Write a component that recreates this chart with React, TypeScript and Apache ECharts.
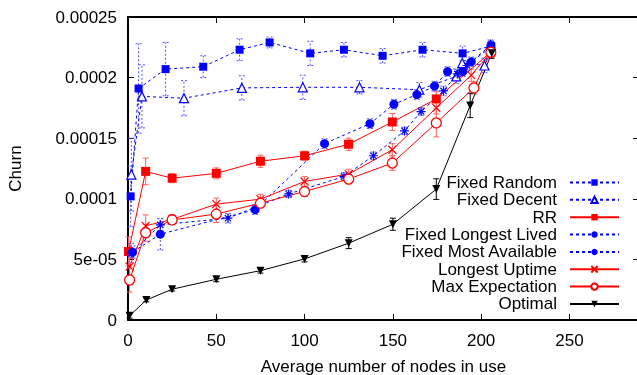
import React, { useEffect, useRef } from 'react';
import * as echarts from 'echarts';

const Y_TICK_LABELS = ['0', '5e-05', '0.0001', '0.00015', '0.0002', '0.00025'];

const FR_X = [1.5, 6, 21.3, 42.6, 63.2, 80.2, 103.2, 122.3, 144.2, 166.8, 189.5, 205.7];
const FR_Y = [1.02e-4, 1.91e-4, 2.07e-4, 2.09e-4, 2.23e-4, 2.29e-4, 2.2e-4, 2.23e-4, 2.18e-4, 2.23e-4, 2.2e-4, 2.26e-4];
const FR_E = [2.5e-5, 3.7e-5, 2.2e-5, 0.9e-5, 0.9e-5, 0.45e-5, 1.0e-5, 0.6e-5, 0.6e-5, 0.6e-5, 0.6e-5, 0.4e-5];

const FD_X = [1.9, 7.9, 31.7, 64.5, 99, 131.1, 165, 185.9, 189.3, 201.9, 205.3];
const FD_Y = [1.2e-4, 1.845e-4, 1.83e-4, 1.915e-4, 1.92e-4, 1.92e-4, 1.9e-4, 2.01e-4, 2.12e-4, 2.1e-4, 2.27e-4];
const FD_E = [3.0e-5, 2.6e-5, 1.45e-5, 1.0e-5, 1.0e-5, 0.55e-5, 0.6e-5, 0.6e-5, 0.6e-5, 0.6e-5, 0.4e-5];

const RR_X = [0.3, 10, 25, 50, 75, 100, 124.9, 149.7, 174.6, 205.5];
const RR_Y = [0.565e-4, 1.226e-4, 1.17e-4, 1.21e-4, 1.31e-4, 1.355e-4, 1.45e-4, 1.634e-4, 1.824e-4, 2.21e-4];
const RR_E = [1.2e-5, 1.1e-5, 0.37e-5, 0.45e-5, 0.5e-5, 0.37e-5, 0.5e-5, 0.7e-5, 0.6e-5, 0.5e-5];

const FLL_X = [1.8, 18.3, 56.6, 91, 122.3, 139, 156.6, 166, 178.7, 186.5, 192, 205.5];
const FLL_Y = [0.55e-4, 0.785e-4, 0.84e-4, 1.04e-4, 1.184e-4, 1.355e-4, 1.56e-4, 1.72e-4, 1.89e-4, 2.03e-4, 2.1e-4, 2.27e-4];
const FLL_E = [0.8e-5, 0.5e-5, 0.4e-5, 0.3e-5, 0.3e-5, 0.3e-5, 0.3e-5, 0.3e-5, 0.4e-5, 0.4e-5, 0.4e-5, 0.3e-5];

const FMA_X = [2.6, 18.3, 72, 111.3, 137, 150.6, 163.6, 173.6, 181, 189.6, 194.4, 205.5];
const FMA_Y = [0.56e-4, 0.708e-4, 0.91e-4, 1.455e-4, 1.62e-4, 1.78e-4, 1.86e-4, 1.93e-4, 2.05e-4, 2.05e-4, 2.13e-4, 2.25e-4];
const FMA_E = [0.5e-5, 1.3e-5, 0.4e-5, 0.4e-5, 0.4e-5, 0.4e-5, 0.4e-5, 0.4e-5, 0.4e-5, 0.4e-5, 0.4e-5, 0.3e-5];

const LU_X = [0.9, 10, 25, 50, 75, 100, 125, 149.7, 174.6, 194.4, 205.5];
const LU_Y = [0.44e-4, 0.777e-4, 0.83e-4, 0.956e-4, 0.997e-4, 1.143e-4, 1.204e-4, 1.405e-4, 1.75e-4, 2.02e-4, 2.21e-4];
const LU_E = [1.0e-5, 0.9e-5, 0.4e-5, 0.5e-5, 0.4e-5, 0.4e-5, 0.4e-5, 0.5e-5, 0.5e-5, 0.5e-5, 0.4e-5];

const ME_X = [0.9, 10, 25, 50, 75, 100, 125, 149.7, 174.6, 195.9, 205.5];
const ME_Y = [0.33e-4, 0.72e-4, 0.826e-4, 0.874e-4, 0.964e-4, 1.06e-4, 1.163e-4, 1.295e-4, 1.626e-4, 1.915e-4, 2.21e-4];
const ME_E = [1.0e-5, 0.7e-5, 0.4e-5, 0.7e-5, 0.4e-5, 0.4e-5, 0.4e-5, 0.6e-5, 1.15e-5, 0.5e-5, 0.4e-5];

const OPT_X = [0.9, 10.4, 25, 50, 75, 100, 125, 150, 174.6, 193.8, 206];
const OPT_Y = [0.035e-4, 0.165e-4, 0.254e-4, 0.336e-4, 0.407e-4, 0.504e-4, 0.634e-4, 0.79e-4, 1.08e-4, 1.77e-4, 2.2e-4];
const OPT_E = [0.2e-5, 0.15e-5, 0.15e-5, 0.2e-5, 0.2e-5, 0.25e-5, 0.45e-5, 0.5e-5, 0.85e-5, 1.0e-5, 0.4e-5];

const FONT = "'Liberation Sans', Arial, sans-serif";
const BLUE = '#0000ff';
const RED = '#ff0000';

const ASTERISK = 'path://M5,0L5,10M0,5L10,5M1.5,1.5L8.5,8.5M8.5,1.5L1.5,8.5';
const CROSS = 'path://M0,0L10,10M10,0L0,10';
const DOWN_TRI = 'path://M0,0L10,0L5,9Z';
const UP_TRI = 'path://M5,0L10,9L0,9Z';

const SERIES = [
  { name: 'Fixed Random', x: FR_X, y: FR_Y, e: FR_E, color: BLUE, fill: BLUE, bw: 0, dash: [3, 3], symbol: 'rect', size: 8, errColor: '#5050ff', errDash: [2, 2] },
  { name: 'Fixed Decent', x: FD_X, y: FD_Y, e: FD_E, color: BLUE, fill: '#ffffff', bw: 1.2, dash: [3, 3], symbol: UP_TRI, size: 9, errColor: '#5050ff', errDash: [2, 2] },
  { name: 'RR', x: RR_X, y: RR_Y, e: RR_E, color: RED, fill: RED, bw: 0, dash: null, symbol: 'rect', size: 9, errColor: '#ff6060', errDash: null },
  { name: 'Fixed Longest Lived', x: FLL_X, y: FLL_Y, e: FLL_E, color: BLUE, fill: BLUE, bw: 1.2, dash: [3, 3], symbol: ASTERISK, size: 9, errColor: '#5050ff', errDash: [2, 2] },
  { name: 'Fixed Most Available', x: FMA_X, y: FMA_Y, e: FMA_E, color: BLUE, fill: BLUE, bw: 0, dash: [3, 3], symbol: 'circle', size: 9, errColor: '#5050ff', errDash: [2, 2] },
  { name: 'Longest Uptime', x: LU_X, y: LU_Y, e: LU_E, color: RED, fill: RED, bw: 1.2, dash: null, symbol: CROSS, size: 8, errColor: '#ff6060', errDash: null },
  { name: 'Max Expectation', x: ME_X, y: ME_Y, e: ME_E, color: RED, fill: '#ffffff', bw: 1.3, dash: null, symbol: 'circle', size: 10, errColor: '#ff6060', errDash: null },
  { name: 'Optimal', x: OPT_X, y: OPT_Y, e: OPT_E, color: '#000000', fill: '#000000', bw: 0, dash: null, symbol: DOWN_TRI, size: 8, errColor: '#000000', errDash: null },
];

const LEGEND_TOP0 = 174;
const LEGEND_STEP = 17.35;

export default function App() {
  const ref = useRef<HTMLDivElement>(null);
  useEffect(() => {
    if (!ref.current) return;
    const chart = echarts.init(ref.current, undefined, { renderer: 'svg' });
    const series: any[] = [];
    SERIES.forEach((s) => {
      series.push({
        type: 'custom',
        name: s.name + ' err',
        xAxisIndex: 0,
        yAxisIndex: 0,
        data: s.x.map((xv, i) => [xv, s.y[i] - s.e[i], s.y[i] + s.e[i]]),
        encode: { x: 0, y: [1, 2] },
        silent: true,
        renderItem: (params: any, api: any) => {
          const xv = api.value(0);
          const p1 = api.coord([xv, api.value(1)]);
          const p2 = api.coord([xv, api.value(2)]);
          const w = 3;
          const style: any = { stroke: s.errColor, lineWidth: 1, fill: 'none' };
          if (s.errDash) style.lineDash = s.errDash;
          return {
            type: 'group',
            children: [
              { type: 'line', shape: { x1: p1[0], y1: p1[1], x2: p2[0], y2: p2[1] }, style },
              { type: 'line', shape: { x1: p1[0] - w, y1: p1[1], x2: p1[0] + w, y2: p1[1] }, style },
              { type: 'line', shape: { x1: p2[0] - w, y1: p2[1], x2: p2[0] + w, y2: p2[1] }, style },
            ],
          };
        },
      });
      series.push({
        type: 'line',
        name: s.name,
        xAxisIndex: 0,
        yAxisIndex: 0,
        data: s.x.map((xv, i) => [xv, s.y[i]]),
        symbol: s.symbol,
        symbolSize: s.size,
        showAllSymbol: true,
        lineStyle: { color: s.color, width: 1, type: s.dash ? s.dash : 'solid' },
        itemStyle: { color: s.fill, borderColor: s.color, borderWidth: s.bw },
        emphasis: { disabled: true },
      });
    });

    const legends = SERIES.map((s, i) => ({
      data: [s.name],
      orient: 'vertical',
      align: 'right',
      right: 17,
      top: LEGEND_TOP0 + i * LEGEND_STEP,
      padding: 0,
      itemWidth: 49,
      itemHeight: 8,
      selectedMode: false,
      textStyle: { fontFamily: FONT, fontSize: 17, color: '#000', lineHeight: 17, padding: [0, 8, 0, 0] },
    }));

    const axisCommon = {
      axisLine: { show: true, onZero: false, lineStyle: { color: '#000', width: 2 } },
      splitLine: { show: false },
    };

    chart.setOption({
      animation: false,
      textStyle: { fontFamily: FONT },
      grid: { left: 128, right: -2, top: 17, bottom: 55, containLabel: false, outerBoundsMode: 'none' },
      legend: legends,
      xAxis: [
        {
          type: 'value', min: 0, max: 289.4, interval: 50, position: 'bottom',
          ...axisCommon,
          axisTick: { show: true, inside: true, length: 6, lineStyle: { color: '#000', width: 1 } },
          axisLabel: {
            fontSize: 17, color: '#000', fontFamily: FONT, margin: 12,
            formatter: (v: number) => (Math.abs(v % 50) < 1e-9 ? String(v) : ''),
          },
          name: 'Average number of nodes in use', nameLocation: 'middle', nameGap: 38,
          nameTextStyle: { fontSize: 17, color: '#000', fontFamily: FONT },
        },
        {
          type: 'value', min: 0, max: 289.4, interval: 50, position: 'top',
          ...axisCommon,
          axisTick: { show: true, inside: true, length: 6, lineStyle: { color: '#000', width: 1 } },
          axisLabel: { show: false },
        },
      ],
      yAxis: [
        {
          type: 'value', min: 0, max: 0.00025, interval: 0.00005, position: 'left',
          ...axisCommon,
          axisTick: { show: true, inside: true, length: 6, lineStyle: { color: '#000', width: 1 } },
          axisLabel: {
            fontSize: 17, color: '#000', fontFamily: FONT, margin: 11,
            formatter: (v: number) => Y_TICK_LABELS[Math.round(v / 0.00005)] ?? '',
          },
          name: 'Churn', nameLocation: 'middle', nameGap: 104, nameRotate: 90,
          nameTextStyle: { fontSize: 17, color: '#000', fontFamily: FONT },
        },
        {
          type: 'value', min: 0, max: 0.00025, interval: 0.00005, position: 'right',
          ...axisCommon,
          axisTick: { show: true, inside: true, length: 6, lineStyle: { color: '#000', width: 1 } },
          axisLabel: { show: false },
        },
      ],
      series,
    });
    return () => chart.dispose();
  }, []);
  return <div ref={ref} style={{ position: 'fixed', left: 0, top: 0, width: 637, height: 375 }} />;
}
